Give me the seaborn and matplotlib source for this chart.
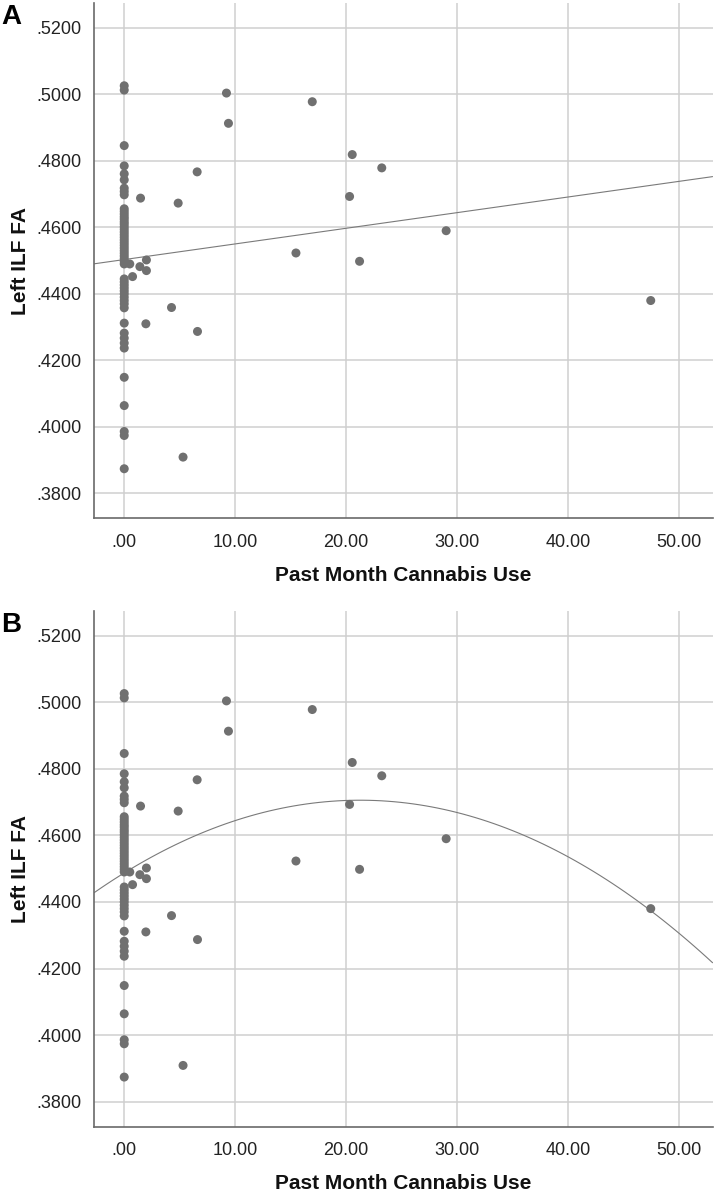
import numpy as np
import pandas as pd
import matplotlib
matplotlib.use("Agg")
import matplotlib.pyplot as plt
import seaborn as sns
from matplotlib.ticker import FixedLocator, FuncFormatter

# ---- data ----
zero_use_fa = [
    0.5026, 0.5013, 0.4846, 0.4785, 0.4761, 0.4743, 0.4718, 0.4708, 0.4698,
    0.4656, 0.4648, 0.4640, 0.4632, 0.4625, 0.4617, 0.4610, 0.4602, 0.4594,
    0.4586, 0.4578, 0.4570, 0.4562, 0.4554, 0.4546, 0.4538, 0.4530, 0.4522,
    0.4514, 0.4506, 0.4498, 0.4490,
    0.4445, 0.4436, 0.4427, 0.4418, 0.4409, 0.4400, 0.4390, 0.4380, 0.4370, 0.4358,
    0.4312, 0.4282, 0.4267, 0.4252, 0.4237, 0.4149, 0.4064, 0.3986, 0.3974, 0.3874,
]
user_use = [0.5, 0.75, 1.41, 1.47, 2.0, 2.0, 1.95, 4.26, 4.86, 5.3, 6.57, 6.6,
            9.21, 9.39, 15.47, 16.94, 20.3, 20.54, 21.2, 23.2, 29.0, 47.43]
user_fa = [0.4490, 0.4452, 0.4482, 0.4688, 0.4502, 0.4470, 0.4310, 0.4359, 0.4673,
           0.3909, 0.4767, 0.4287, 0.5004, 0.4913, 0.4523, 0.4978, 0.4693, 0.4819,
           0.4498, 0.4779, 0.4590, 0.4380]

cannabis_use = [0.0] * len(zero_use_fa) + user_use
left_ilf_fa = zero_use_fa + user_fa

x_ticks = [0, 10, 20, 30, 40, 50]
y_ticks = [0.38, 0.40, 0.42, 0.44, 0.46, 0.48, 0.50, 0.52]
panel_labels = ["A", "B"]
fit_orders = [1, 2]
x_label = "Past Month Cannabis Use"
y_label = "Left ILF FA"

df = pd.DataFrame({"use": cannabis_use, "fa": left_ilf_fa})

# ---- styling ----
sns.set_style("white")
plt.rcParams["font.family"] = ["Liberation Sans", "DejaVu Sans"]

dot_color = "#707070"
line_color = "#7a7a7a"
grid_color = "#cfcfcf"
spine_color = "#6a6a6a"

fig = plt.figure(figsize=(7.14, 11.92), dpi=100)
axes_rects = [
    [0.132, 0.5652, 0.866, 0.4323],
    [0.132, 0.0548, 0.866, 0.4329],
]

def fmt_y(v, pos):
    return ("%.4f" % v).lstrip("0")

def fmt_x(v, pos):
    s = "%.2f" % v
    return s[1:] if s.startswith("0") else s

for rect, order, letter in zip(axes_rects, fit_orders, panel_labels):
    ax = fig.add_axes(rect)
    ax.set_xlim(-2.7, 53.0)
    ax.set_ylim(0.3725, 0.5275)
    ax.set_axisbelow(True)
    ax.xaxis.set_major_locator(FixedLocator(x_ticks))
    ax.yaxis.set_major_locator(FixedLocator(y_ticks))
    ax.grid(True, color=grid_color, linewidth=1.1)
    sns.regplot(data=df, x="use", y="fa", order=order, ci=None, truncate=False,
                ax=ax,
                scatter_kws=dict(s=42, color=dot_color, edgecolor="none", alpha=1, zorder=3),
                line_kws=dict(color=line_color, linewidth=0.8, zorder=2))
    ax.set_xlim(-2.7, 53.0)
    ax.set_ylim(0.3725, 0.5275)
    ax.yaxis.set_major_formatter(FuncFormatter(fmt_y))
    ax.xaxis.set_major_formatter(FuncFormatter(fmt_x))
    ax.tick_params(axis="both", length=0, labelsize=13, colors="#222222")
    ax.tick_params(axis="x", pad=11)
    ax.tick_params(axis="y", pad=9)
    for side in ["top", "right"]:
        ax.spines[side].set_visible(False)
    for side in ["left", "bottom"]:
        ax.spines[side].set_color(spine_color)
        ax.spines[side].set_linewidth(1.2)
    ax.set_xlabel(x_label, fontsize=15, fontweight="bold", labelpad=11, color="#111111")
    ax.set_ylabel(y_label, fontsize=15, fontweight="bold", labelpad=5, color="#111111")
    top_px = (1 - (rect[1] + rect[3])) * 1192
    fig.text(1 / 714, 1 - (top_px + 1) / 1192, letter, fontsize=20, fontweight="bold",
             ha="left", va="top", color="black")

fig.savefig("out.png", dpi=100)
